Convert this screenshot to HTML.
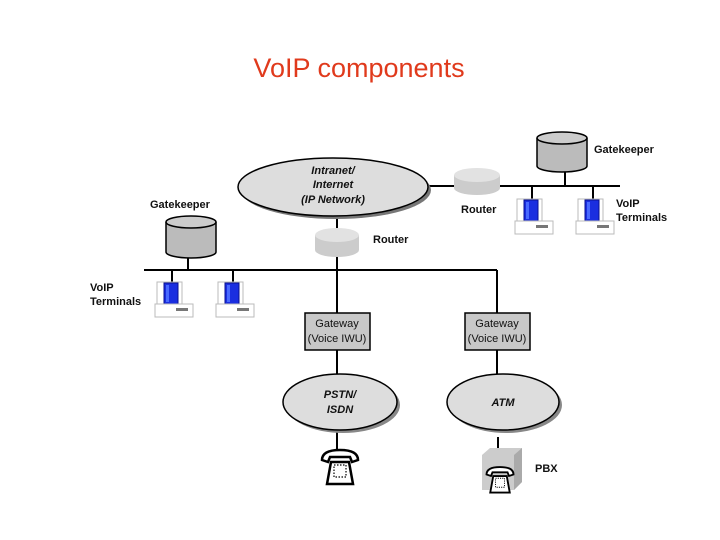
<!DOCTYPE html>
<html><head><meta charset="utf-8"><style>
body{margin:0;background:#fff}
svg{display:block}
text{font-family:"Liberation Sans",Arial,sans-serif;font-size:11px;font-weight:bold;fill:#111}
</style></head><body>
<svg width="720" height="540" viewBox="0 0 720 540" xmlns="http://www.w3.org/2000/svg">
<defs>
<g id="term">
 <rect x="-15" y="0" width="25" height="23" fill="#fff" stroke="#bbb" stroke-width="1"/>
 <rect x="-8" y="1" width="14" height="21" fill="#1a2ee0" stroke="#0a1090" stroke-width="1"/>
 <rect x="-6" y="3" width="3" height="17" fill="#4a6aff"/>
 <rect x="-17" y="22" width="38" height="13" fill="#fff" stroke="#bbb" stroke-width="1"/>
 <rect x="4" y="26" width="12" height="3" fill="#777"/>
</g>
<g id="phone">
 <path d="M-18,6 Q-18,-4 0,-4 Q18,-4 18,6 L12,8 L10,3 L-10,3 L-12,8 Z" fill="#fff" stroke="#000" stroke-width="2.5"/>
 <path d="M-9,8 L9,8 L13,30 L-13,30 Z" fill="#fff" stroke="#000" stroke-width="2.5"/>
 <rect x="-6" y="11" width="12" height="12" fill="#fff" stroke="#000" stroke-width="1.2" stroke-dasharray="1.5 1.5"/>
</g>
</defs>
<text x="359" y="77" text-anchor="middle" style="font-size:27px;font-weight:normal;fill:#e03a1c">VoIP components</text>

<g stroke="#000" stroke-width="2" fill="none">
 <line x1="144" y1="270" x2="497" y2="270"/>
 <line x1="188" y1="257" x2="188" y2="270"/>
 <line x1="172" y1="270" x2="172" y2="283"/>
 <line x1="233" y1="270" x2="233" y2="283"/>
 <line x1="337" y1="217" x2="337" y2="313"/>
 <line x1="497" y1="270" x2="497" y2="313"/>
 <line x1="428" y1="186" x2="620" y2="186"/>
 <line x1="565" y1="170" x2="565" y2="186"/>
 <line x1="532" y1="186" x2="532" y2="199"/>
 <line x1="593" y1="186" x2="593" y2="199"/>
 <line x1="337" y1="350" x2="337" y2="376"/>
 <line x1="497" y1="350" x2="497" y2="375"/>
 <line x1="337" y1="430" x2="337" y2="450"/>
 <line x1="498" y1="437" x2="498" y2="450"/>
</g>

<ellipse cx="336" cy="190" rx="95" ry="29" fill="#777"/>
<ellipse cx="333" cy="187" rx="95" ry="29" fill="#ddd" stroke="#000" stroke-width="1.5"/>
<text x="333" y="174" text-anchor="middle" style="font-style:italic">Intranet/</text>
<text x="333" y="188" text-anchor="middle" style="font-style:italic">Internet</text>
<text x="333" y="203" text-anchor="middle" style="font-style:italic">(IP Network)</text>

<path d="M166,222 L166,252 A25,6 0 0 0 216,252 L216,222" fill="#bbb" stroke="#000" stroke-width="1.5"/>
<ellipse cx="191" cy="222" rx="25" ry="6" fill="#ccc" stroke="#000" stroke-width="1.5"/>
<text x="150" y="208">Gatekeeper</text>

<path d="M537,138 L537,166 A25,6 0 0 0 587,166 L587,138" fill="#bbb" stroke="#000" stroke-width="1.5"/>
<ellipse cx="562" cy="138" rx="25" ry="6" fill="#ccc" stroke="#000" stroke-width="1.5"/>
<text x="594" y="153">Gatekeeper</text>

<path d="M315,235 L315,250 A22,7 0 0 0 359,250 L359,235" fill="#ccc"/>
<ellipse cx="337" cy="235" rx="22" ry="7" fill="#e2e2e2"/>
<text x="373" y="243">Router</text>
<path d="M454,175 L454,188 A23,7 0 0 0 500,188 L500,175" fill="#ccc"/>
<ellipse cx="477" cy="175" rx="23" ry="7" fill="#e2e2e2"/>
<text x="461" y="213">Router</text>

<use href="#term" x="172" y="282"/>
<use href="#term" x="233" y="282"/>
<use href="#term" x="532" y="199"/>
<use href="#term" x="593" y="199"/>
<text x="90" y="291">VoIP</text>
<text x="90" y="305">Terminals</text>
<text x="616" y="207">VoIP</text>
<text x="616" y="221">Terminals</text>

<rect x="305" y="313" width="65" height="37" fill="#c8c8c8" stroke="#000" stroke-width="1.5"/>
<text x="337" y="327" text-anchor="middle" style="font-weight:normal">Gateway</text>
<text x="337" y="342" text-anchor="middle" style="font-weight:normal">(Voice IWU)</text>
<rect x="465" y="313" width="65" height="37" fill="#c8c8c8" stroke="#000" stroke-width="1.5"/>
<text x="497" y="327" text-anchor="middle" style="font-weight:normal">Gateway</text>
<text x="497" y="342" text-anchor="middle" style="font-weight:normal">(Voice IWU)</text>

<ellipse cx="343" cy="405" rx="57" ry="28" fill="#888"/>
<ellipse cx="340" cy="402" rx="57" ry="28" fill="#ddd" stroke="#000" stroke-width="1.5"/>
<text x="340" y="398" text-anchor="middle" style="font-style:italic">PSTN/</text>
<text x="340" y="413" text-anchor="middle" style="font-style:italic">ISDN</text>
<ellipse cx="506" cy="405" rx="56" ry="28" fill="#888"/>
<ellipse cx="503" cy="402" rx="56" ry="28" fill="#ddd" stroke="#000" stroke-width="1.5"/>
<text x="503" y="406" text-anchor="middle" style="font-style:italic">ATM</text>

<use href="#phone" x="340" y="454"/>
<path d="M482,455 L490,448 L522,448 L522,482 L514,490 L482,490 Z" fill="#ccc"/>
<path d="M514,455 L522,448 L522,482 L514,490 Z" fill="#aaa"/>
<use href="#phone" x="500" y="470" transform="translate(500,470) scale(0.75) translate(-500,-470)"/>
<text x="535" y="472">PBX</text>
</svg>
</body></html>
